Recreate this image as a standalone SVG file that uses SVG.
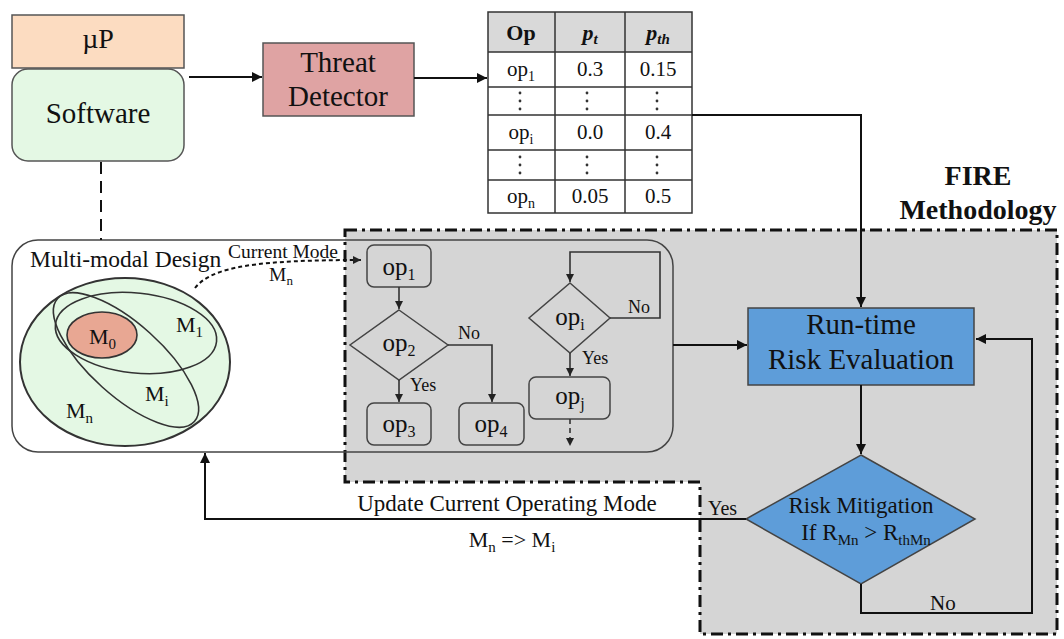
<svg xmlns="http://www.w3.org/2000/svg" width="1064" height="639" viewBox="0 0 1064 639">
<defs>
<style>
text{font-family:"Liberation Serif","Times New Roman",serif;fill:#111}
.c{text-anchor:middle}
.ln{fill:none;stroke:#111;stroke-width:2}
.fl{fill:none;stroke:#333;stroke-width:1.6}
.bx{fill:none;stroke:#444;stroke-width:1.5}
.el{stroke:#333;stroke-width:1.6}
.cell{stroke:#333;stroke-width:1.5}
</style>
<marker id="ah" viewBox="0 0 10 10" refX="10" refY="5" markerWidth="11" markerHeight="10" markerUnits="userSpaceOnUse" orient="auto"><path d="M0,0 L10,5 L0,10 z" fill="#111"/></marker>
<marker id="as" viewBox="0 0 10 10" refX="10" refY="5" markerWidth="9" markerHeight="8" markerUnits="userSpaceOnUse" orient="auto"><path d="M0,0 L10,5 L0,10 z" fill="#222"/></marker>
</defs>
<rect width="1064" height="639" fill="#fff"/>

<g id="fire-region">
<path d="M345,230 H1057 V634 H700 V482 H345 Z" fill="#d5d5d5" stroke="#111" stroke-width="3" stroke-dasharray="12 5 3 5"/>
<text class="c" x="978" y="185" font-size="28" font-weight="bold">FIRE</text>
<text class="c" x="978" y="219" font-size="28" font-weight="bold">Methodology</text>
</g>

<g id="up">
<rect x="12" y="15" width="172" height="53" fill="#fcdcc1" stroke="#555" stroke-width="1.5"/>
<text class="c" x="98" y="48" font-size="28">µP</text>
</g>
<g id="software">
<rect x="12" y="69" width="172" height="92" rx="16" fill="#e4f8e4" stroke="#555" stroke-width="1.5"/>
<text class="c" x="98" y="123" font-size="29">Software</text>
</g>
<g id="threat-detector">
<rect x="263" y="43" width="151" height="73" fill="#dfa3a3" stroke="#555" stroke-width="1.5"/>
<text class="c" x="338" y="72" font-size="29">Threat</text>
<text class="c" x="338" y="106" font-size="29">Detector</text>
</g>

<g id="table">
<rect x="488" y="12" width="204" height="40" fill="#d9d9d9"/>
<rect x="488" y="12" width="204" height="201" fill="none" class="cell"/>
<path class="cell" d="M555,12 V213 M625,12 V213 M488,52 H692 M488,87 H692 M488,115 H692 M488,150 H692 M488,180 H692"/>
<text class="c" x="521" y="40" font-size="22" font-weight="bold">Op</text>
<text class="c" x="590" y="40" font-size="22" font-weight="bold" font-style="italic">p<tspan font-size="15" dy="4">t</tspan></text>
<text class="c" x="658" y="40" font-size="22" font-weight="bold" font-style="italic">p<tspan font-size="15" dy="4">th</tspan></text>
<text class="c" x="521" y="76" font-size="21" fill="#333">op<tspan font-size="14" dy="5">1</tspan></text>
<text class="c" x="590" y="76" font-size="21" fill="#333">0.3</text>
<text class="c" x="658" y="76" font-size="21" fill="#333">0.15</text>
<text class="c" x="521" y="139" font-size="21" fill="#333">op<tspan font-size="14" dy="5">i</tspan></text>
<text class="c" x="590" y="139" font-size="21" fill="#333">0.0</text>
<text class="c" x="658" y="139" font-size="21" fill="#333">0.4</text>
<text class="c" x="521" y="203" font-size="21" fill="#333">op<tspan font-size="14" dy="5">n</tspan></text>
<text class="c" x="590" y="203" font-size="21" fill="#333">0.05</text>
<text class="c" x="658" y="203" font-size="21" fill="#333">0.5</text>
<g fill="#333">
<circle cx="520" cy="93" r="1.4"/><circle cx="520" cy="101" r="1.4"/><circle cx="520" cy="109" r="1.4"/>
<circle cx="587" cy="93" r="1.4"/><circle cx="587" cy="101" r="1.4"/><circle cx="587" cy="109" r="1.4"/>
<circle cx="657" cy="93" r="1.4"/><circle cx="657" cy="101" r="1.4"/><circle cx="657" cy="109" r="1.4"/>
<circle cx="520" cy="157" r="1.4"/><circle cx="520" cy="165" r="1.4"/><circle cx="520" cy="173" r="1.4"/>
<circle cx="587" cy="157" r="1.4"/><circle cx="587" cy="165" r="1.4"/><circle cx="587" cy="173" r="1.4"/>
<circle cx="657" cy="157" r="1.4"/><circle cx="657" cy="165" r="1.4"/><circle cx="657" cy="173" r="1.4"/>
</g>
</g>

<g id="multimodal-design">
<rect x="12" y="240" width="661" height="212" rx="26" class="bx"/>
<text x="30" y="267" font-size="23.5">Multi-modal Design</text>
<ellipse cx="125" cy="362" rx="105" ry="84" fill="#e4f8e4" stroke="#333" stroke-width="2"/>
<ellipse cx="136" cy="333" rx="81" ry="40" fill="none" class="el" transform="rotate(6 136 333)"/>
<ellipse cx="126" cy="360" rx="92" ry="36" fill="none" class="el" transform="rotate(42 126 360)"/>
<ellipse cx="102" cy="335" rx="35" ry="23" fill="#e8a793" class="el"/>
<text x="89" y="344" font-size="22">M<tspan font-size="15" dy="5">0</tspan></text>
<text x="176" y="332" font-size="22">M<tspan font-size="15" dy="5">1</tspan></text>
<text x="145" y="401" font-size="22">M<tspan font-size="15" dy="5">i</tspan></text>
<text x="66" y="418" font-size="22">M<tspan font-size="15" dy="5">n</tspan></text>
<text class="c" x="283" y="258" font-size="19.5">Current Mode</text>
<text class="c" x="281" y="281" font-size="19.5">M<tspan font-size="13" dy="4">n</tspan></text>
</g>

<g id="flowchart">
<g id="op1"><rect x="367" y="245" width="64" height="42" rx="7" class="bx"/><text class="c" x="399" y="275" font-size="25">op<tspan font-size="16" dy="5">1</tspan></text></g>
<g id="op2"><path d="M399,310 L448,345 L399,380 L350,345 Z" class="bx"/><text class="c" x="399" y="351" font-size="25">op<tspan font-size="16" dy="5">2</tspan></text></g>
<g id="op3"><rect x="367" y="403" width="64" height="42" rx="7" class="bx"/><text class="c" x="399" y="432" font-size="25">op<tspan font-size="16" dy="5">3</tspan></text></g>
<g id="op4"><rect x="459" y="403" width="65" height="42" rx="7" class="bx"/><text class="c" x="491" y="432" font-size="25">op<tspan font-size="16" dy="5">4</tspan></text></g>
<g id="opi"><path d="M570,283 L610,318 L570,353 L529,318 Z" class="bx"/><text class="c" x="570" y="325" font-size="25">op<tspan font-size="16" dy="5">i</tspan></text></g>
<g id="opj"><rect x="529" y="377" width="81" height="42" rx="7" class="bx"/><text class="c" x="570" y="404" font-size="25">op<tspan font-size="16" dy="5">j</tspan></text></g>
</g>

<g id="run-time-risk-evaluation">
<rect x="748" y="308" width="226" height="77" fill="#5e9dd9" stroke="#444" stroke-width="1.5"/>
<text class="c" x="861" y="334" font-size="29">Run-time</text>
<text class="c" x="861" y="369" font-size="29">Risk Evaluation</text>
</g>

<g id="risk-mitigation">
<path d="M861,455 L975,519 L861,584 L746,519 Z" fill="#5e9dd9" stroke="#444" stroke-width="1.5"/>
<text class="c" x="861" y="513" font-size="23">Risk Mitigation</text>
<text class="c" x="866" y="540" font-size="23">If R<tspan font-size="15" dy="5">Mn</tspan><tspan dy="-5"> &gt; R</tspan><tspan font-size="15" dy="5">thMn</tspan></text>
</g>

<g id="connectors">
<path class="ln" d="M101,162 V240" stroke-width="3" stroke-dasharray="12 7"/>
<path class="ln" d="M189,77 H262" marker-end="url(#ah)"/>
<path class="ln" d="M414,78 H487" marker-end="url(#ah)"/>
<path class="ln" d="M692,115 H861 V307" marker-end="url(#ah)"/>
<path class="ln" d="M673,345 H747" marker-end="url(#ah)"/>
<path class="ln" d="M861,385 V454" marker-end="url(#ah)"/>
<path class="ln" d="M861,584 V613 H1032 V339 H976" marker-end="url(#ah)"/>
<path class="ln" d="M746,519 H205 V453" marker-end="url(#ah)"/>
<path class="ln" d="M195,288 C212,266 260,260 361,260" stroke-width="1.8" stroke-dasharray="4 3" marker-end="url(#as)"/>
<path class="fl" d="M399,287 V309" marker-end="url(#as)"/>
<path class="fl" d="M448,345 H492 V402" marker-end="url(#as)"/>
<path class="fl" d="M399,380 V402" marker-end="url(#as)"/>
<path class="fl" d="M610,318 H660 V252 H570 V282" marker-end="url(#as)"/>
<path class="fl" d="M570,353 V376" marker-end="url(#as)"/>
<path class="fl" d="M570,419 V446" stroke-dasharray="5 4" marker-end="url(#as)"/>
<text x="458" y="339" font-size="18" fill="#333">No</text>
<text x="410" y="391" font-size="18" fill="#333">Yes</text>
<text x="628" y="313" font-size="18" fill="#333">No</text>
<text x="582" y="364" font-size="18" fill="#333">Yes</text>
<text x="708" y="515" font-size="20">Yes</text>
<text x="930" y="610" font-size="21">No</text>
<text class="c" x="507" y="511" font-size="23">Update Current Operating Mode</text>
<text class="c" x="512" y="547" font-size="22">M<tspan font-size="15" dy="5">n</tspan><tspan dy="-5"> =&gt; M</tspan><tspan font-size="15" dy="5">i</tspan></text>
</g>
</svg>
